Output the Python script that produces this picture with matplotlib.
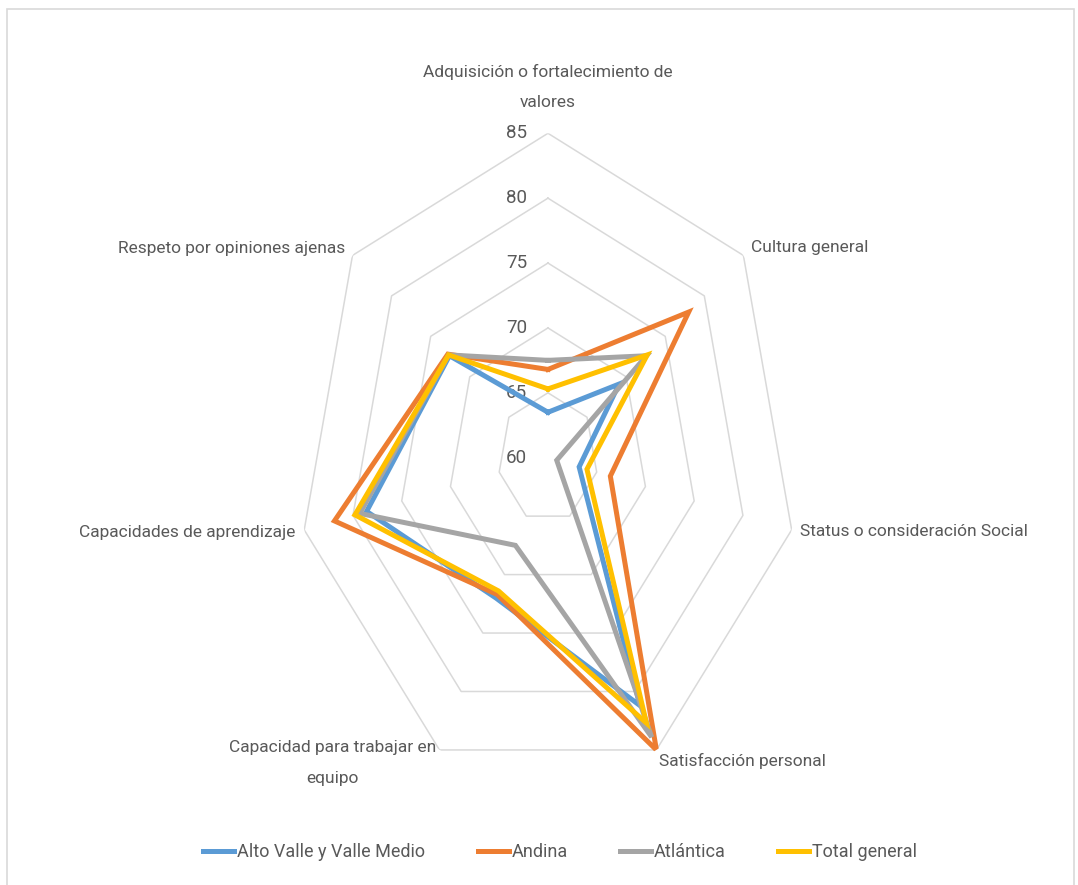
import matplotlib.pyplot as plt
import numpy as np
from matplotlib.lines import Line2D
from matplotlib.patches import Rectangle

# categories (clockwise from the top)
categories = ['Adquisición o fortalecimiento de\nvalores', 'Cultura general',
              'Status o consideración Social', 'Satisfacción personal',
              'Capacidad para trabajar en\nequipo', 'Capacidades de aprendizaje',
              'Respeto por opiniones ajenas']

alto_valle = [63.5, 69.1, 63.2, 81.2, 72.0, 78.6, 72.6]
andina = [66.8, 78.0, 66.4, 85.0, 71.7, 81.9, 72.8]
atlantica = [67.5, 72.6, 60.9, 83.9, 67.5, 79.3, 72.7]
total_general = [65.3, 72.7, 64.0, 82.7, 71.4, 79.8, 72.7]

series_names = ['Alto Valle y Valle Medio', 'Andina', 'Atlántica', 'Total general']
colors = ['#5B9BD5', '#ED7D31', '#A5A5A5', '#FFC000']
ring_values = [65, 70, 75, 80, 85]
ring_labels = ['60', '65', '70', '75', '80', '85']

plt.rcParams['font.family'] = ['Roboto', 'DejaVu Sans']
txt_color = '#595959'

fig = plt.figure(figsize=(10.78, 8.85), dpi=100)
fig.patches.append(Rectangle((7 / 1078, -0.02), 1067 / 1078, 1.02 - 9 / 885,
                             transform=fig.transFigure, fill=False,
                             edgecolor='#D9D9D9', lw=1.2))

ax = fig.add_axes([0.2764, 0.1163, 0.4638, 0.7331], projection='polar')
ax.set_aspect('auto')
ax.set_theta_zero_location('N')
ax.set_theta_direction(-1)
ax.set_ylim(60, 85)
ax.set_xticks([])
ax.set_yticks([])
ax.grid(False)
ax.spines['polar'].set_visible(False)
ax.patch.set_visible(False)

n = len(categories)
angles = np.arange(n) * 2 * np.pi / n
closed = np.append(angles, angles[0])

# heptagon grid
for r in ring_values:
    ax.plot(closed, [r] * (n + 1), color='#D9D9D9', lw=1.1, zorder=1)

# value labels along the top axis
for lab in ring_labels:
    ax.annotate(lab, (0, float(lab)), xytext=(-21, 0), textcoords='offset pixels',
                ha='right', va='center', fontsize=13.5, color=txt_color)

# category labels
offsets = [(0, 23, 'center', 'bottom'), (8, 8, 'left', 'center'),
           (8, -2, 'left', 'center'), (3, -11, 'left', 'center'),
           (-3, -13, 'right', 'center'), (-9, -3, 'right', 'center'),
           (-7, 7, 'right', 'center')]
for ang, cat, (dx, dy, ha, va) in zip(angles, categories, offsets):
    ax.annotate(cat, (ang, 85), xytext=(dx, dy), textcoords='offset pixels',
                ha=ha, va=va, multialignment='center', linespacing=2.26,
                fontsize=12.5, color=txt_color, annotation_clip=False)

data = [alto_valle, andina, atlantica, total_general]
for vals, c in zip(data, colors):
    ax.plot(closed, vals + vals[:1], color=c, lw=3.6, zorder=3,
            solid_joinstyle='miter')

handles = [Line2D([], [], color=c, lw=3.6) for c in colors]
fig.legend(handles, series_names, loc='center', bbox_to_anchor=(0.5195, 0.0373),
           ncol=4, frameon=False, fontsize=13, labelcolor=txt_color,
           handlelength=1.72, handletextpad=0.15, columnspacing=2.9)

fig.savefig('out.png', dpi=100)
